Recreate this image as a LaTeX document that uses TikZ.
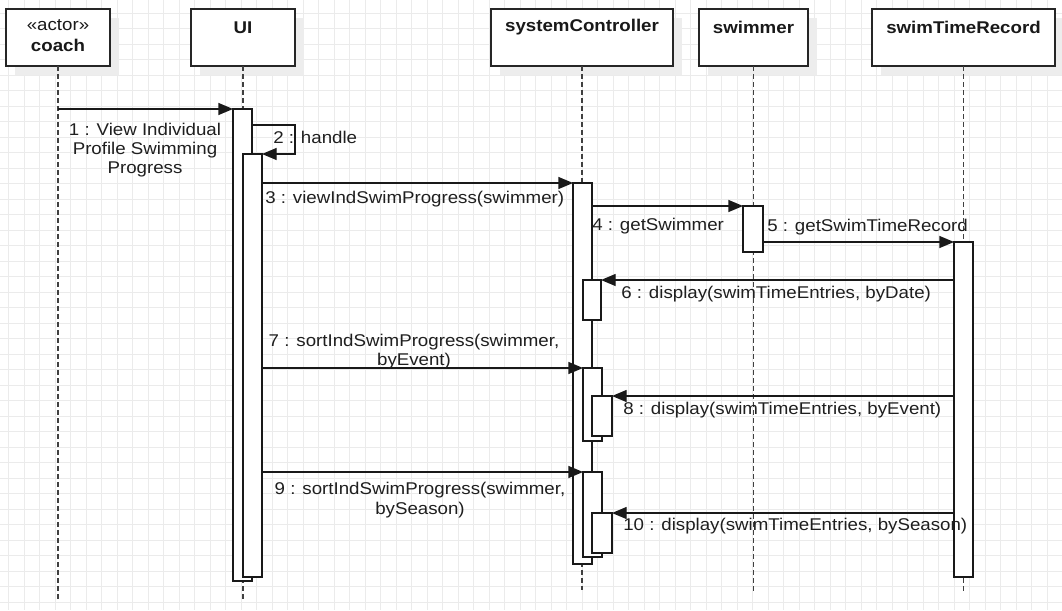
\documentclass[tikz,border=0pt]{standalone}
\usepackage{fontspec}
\setmainfont{Liberation Sans}[FakeStretch=1.1]
\usetikzlibrary{arrows.meta}
\newcommand\actbar[5]{\node[bar, minimum width={(#4-#2)*0.75pt}, minimum height={(#5-#3)*0.75pt}] (#1) at (#2,#3) {};}
\newcommand\objbx[5]{%
  \fill[shadow] (#2+9,#3+9) rectangle (#4+9,#5+9);
  \node[objbox, minimum width={(#4-#2)*0.75pt}, minimum height={(#5-#3)*0.75pt}] (#1) at (#2,#3) {};}
\begin{document}
\begin{tikzpicture}[x=0.75pt,y=-0.75pt,
  gridln/.style={draw=black!8, line width=0.5pt},
  shadow/.style={fill=black!7, draw=none},
  objbox/.style={draw=black!85, line width=1.3pt, fill=white, rectangle, inner sep=0pt, outer sep=0pt, anchor=north west},
  title/.style={font=\fontsize{12.75}{14.5}\selectfont\bfseries, text=black!90, inner sep=0pt},
  stereo/.style={font=\fontsize{12.75}{14.5}\selectfont, text=black!90, inner sep=0pt},
  life/.style={draw=black!75, line width=1pt, dash pattern=on 3.5pt off 2.5pt},
  bar/.style={draw=black!90, line width=1pt, fill=white, rectangle, inner sep=0pt, outer sep=0pt, anchor=north west},
  msg/.style={draw=black!90, line width=1pt, -{Triangle[length=11pt,width=9pt]}},
  lbl/.style={font=\fontsize{12.75}{14.5}\selectfont, text=black!88, inner sep=0pt, align=center},
]
\useasboundingbox (0,0) rectangle (1062,610);
\fill[white] (0,0) rectangle (1062,610);
% grid
\foreach \i in {0,...,68} \draw[gridln] ({8.8+15.5*\i},0) -- ({8.8+15.5*\i},610);
\foreach \j in {0,...,39} \draw[gridln] (0,{13.3+15.5*\j}) -- (1062,{13.3+15.5*\j});
% object boxes
\objbx{coach}{6}{9}{110}{66}
\objbx{ui}{191}{9}{295}{66}
\objbx{sc}{491}{9}{673}{66}
\objbx{sw}{699}{9}{808}{66}
\objbx{str}{872}{9}{1055}{66}
\node[stereo] (coachS) at (58,25) {«actor»};
\node[title] (coachT) at (58,45) {coach};
\node[title] (uiT) at (243,28) {UI};
\node[title] (scT) at (582,27) {systemController};
\node[title] (swT) at (753.5,27) {swimmer};
\node[title] (strT) at (963.5,27) {swimTimeRecord};
% lifelines
\draw[life] (coach.south) -- (coach.south |- 0,601);
\draw[life] (ui.south) -- (ui.south |- 0,601);
\draw[life] (sc.south) -- (sc.south |- 0,590);
\draw[life] (sw.south) -- (sw.south |- 0,592);
\draw[life] (str.south) -- (str.south |- 0,592);
% activation bars
\actbar{uiA}{233}{109}{252}{581}
\actbar{uiB}{243}{154}{262}{577}
\actbar{scA}{573}{183}{592}{564}
\actbar{scB1}{583}{280}{601}{320}
\actbar{scB2}{583}{368}{602}{441}
\actbar{scC2}{592}{396}{612}{436}
\actbar{scB3}{583}{472}{602}{557}
\actbar{scC3}{592}{513}{612}{553}
\actbar{swA}{743}{206}{763}{252}
\actbar{strA}{954}{242}{973}{577}
% messages
\draw[msg] (coach.south |- 0,109) -- (uiA.north west);
\coordinate (selfR1) at (295,125);
\coordinate (selfR2) at (295,154);
\draw[msg] (uiA.east |- selfR1) -- (selfR1) -- (selfR2) -- (uiB.north east);
\draw[msg] (uiB.east |- 0,183) -- (scA.north west);
\draw[msg] (scA.east |- 0,206) -- (swA.north west);
\draw[msg] (swA.east |- 0,242) -- (strA.north west);
\draw[msg] (strA.west |- 0,280) -- (scB1.north east);
\draw[msg] (uiB.east |- 0,368) -- (scB2.north west);
\draw[msg] (strA.west |- 0,396) -- (scC2.north east);
\draw[msg] (uiB.east |- 0,472) -- (scB3.north west);
\draw[msg] (strA.west |- 0,513) -- (scC3.north east);
% labels
\node[lbl] (l1) at (145,150) {1 : View Individual\\Profile Swimming\\Progress};
\node[lbl, anchor=west] (l2) at (273,137) {2 : handle};
\node[lbl, anchor=west] (l3) at (265,199) {3 : viewIndSwimProgress(swimmer)};
\node[lbl, anchor=west] (l4) at (592,226) {4 : getSwimmer};
\node[lbl, anchor=west] (l5) at (767,227) {5 : getSwimTimeRecord};
\node[lbl, anchor=west] (l6) at (621,294) {6 : display(swimTimeEntries, byDate)};
\node[lbl] (l7) at (414,351.5) {7 : sortIndSwimProgress(swimmer,\\byEvent)};
\node[lbl, anchor=west] (l8) at (623,410) {8 : display(swimTimeEntries, byEvent)};
\node[lbl] (l9) at (420,500) {9 : sortIndSwimProgress(swimmer,\\bySeason)};
\node[lbl, anchor=west] (l10) at (623,526) {10 : display(swimTimeEntries, bySeason)};
\end{tikzpicture}
\end{document}
